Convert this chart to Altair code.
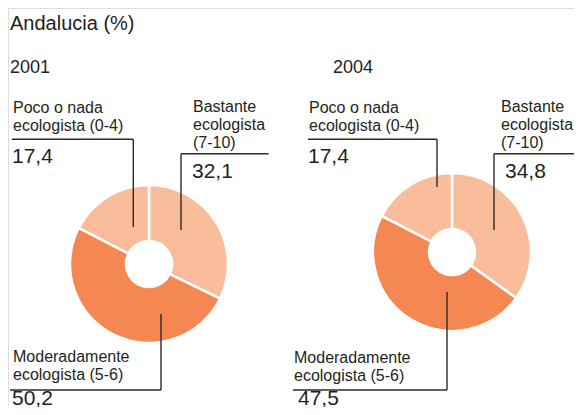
import altair as alt
import pandas as pd

# ---------------- data ----------------
years = ["2001", "2004"]
categories = ["Bastante ecologista (7-10)", "Moderadamente ecologista (5-6)", "Poco o nada ecologista (0-4)"]
label_lines = ["Bastante\necologista\n(7-10)", "Moderadamente\necologista (5-6)", "Poco o nada\necologista (0-4)"]
values_2001 = [32.1, 50.2, 17.4]
values_2004 = [34.8, 47.5, 17.4]
title_text = "Andalucia (%)"

# ---------------- layout (page pixels) / style ----------------
M = 8  # page margin
W, H = 582 - 2 * M, 415 - 2 * M
LIGHT = "#F9BD9B"
DARK = "#F58752"
INK = "#231F20"
FONT = "Liberation Sans"
R_OUT, R_IN = 79, 23

panels = {
    "2001": dict(cx=149, cy=264, year_xy=(10, 73),
                 label_xy=[(193, 111.5), (13, 361.5), (13, 112.5)],
                 value_xy=[(192, 178), (12, 404.5), (12, 163)],
                 lines=[  # horizontal + vertical leader for each category
                     [(181, 153.7, 268.5, 153.7), (181, 153.7, 181, 230)],
                     [(10, 390, 161, 390), (161, 390, 161, 314)],
                     [(12, 139.3, 133.3, 139.3), (133.3, 139.3, 133.3, 227)]]),
    "2004": dict(cx=452, cy=252, year_xy=(333, 73),
                 label_xy=[(501, 111.5), (294, 362.5), (309, 112.5)],
                 value_xy=[(505, 178), (298, 404.5), (308, 163)],
                 lines=[
                     [(494, 153.7, 582, 153.7), (494, 153.7, 494, 230)],
                     [(293, 390, 447, 390), (447, 390, 447, 292)],
                     [(308, 139.3, 437, 139.3), (437, 139.3, 437, 187)]]),
}

values = {"2001": values_2001, "2004": values_2004}

def fmt(v):
    return f"{v:.1f}".replace(".", ",")

pie_rows, label_rows, value_rows, line_rows, head_rows = [], [], [], [], []
head_rows.append(dict(text=title_text, x=10 - M, y=30 - M, size=20))
for yr in years:
    p = panels[yr]
    head_rows.append(dict(text=yr, x=p["year_xy"][0] - M, y=p["year_xy"][1] - M, size=18))
    for i, cat in enumerate(categories):
        v = values[yr][i]
        pie_rows.append(dict(year=yr, category=cat, value=v, order=i))
        lx, ly = p["label_xy"][i]
        label_rows.append(dict(text=label_lines[i], x=lx - M, y=ly - M))
        vx, vy = p["value_xy"][i]
        value_rows.append(dict(text=fmt(v), x=vx - M, y=vy - M))
        for (x1, y1, x2, y2) in p["lines"][i]:
            line_rows.append(dict(x=x1 - M, y=y1 - M, x2=x2 - M, y2=y2 - M))

pie_df = pd.DataFrame(pie_rows)
label_df = pd.DataFrame(label_rows)
value_df = pd.DataFrame(value_rows)
line_df = pd.DataFrame(line_rows)
head_df = pd.DataFrame(head_rows)

color = alt.Color("category:N", scale=alt.Scale(domain=categories, range=[LIGHT, DARK, LIGHT]), legend=None)

def donut(yr):
    p = panels[yr]
    return (
        alt.Chart(pie_df)
        .transform_filter(alt.datum.year == yr)
        .mark_arc(innerRadius=R_IN, outerRadius=R_OUT, stroke="white", strokeWidth=2.5)
        .encode(
            theta=alt.Theta("value:Q", stack=True),
            color=color,
            order=alt.Order("order:Q", sort="ascending"),
            x=alt.value(p["cx"] - M),
            y=alt.value(p["cy"] - M),
        )
    )

X = lambda f: alt.X(f, scale=None, axis=None)
Y = lambda f: alt.Y(f, scale=None, axis=None)

rules = alt.Chart(line_df).mark_rule(color="#2A2A2A", strokeWidth=1.4).encode(
    x=X("x:Q"), y=Y("y:Q"), x2="x2:Q", y2="y2:Q"
)

labels = alt.Chart(label_df).mark_text(
    align="left", baseline="alphabetic", font=FONT, fontSize=16, color=INK,
    lineBreak="\n", lineHeight=18.2
).encode(x=X("x:Q"), y=Y("y:Q"), text="text:N")

vals = alt.Chart(value_df).mark_text(
    align="left", baseline="alphabetic", font=FONT, fontSize=21, color=INK
).encode(x=X("x:Q"), y=Y("y:Q"), text="text:N")

heads = alt.Chart(head_df).mark_text(
    align="left", baseline="alphabetic", font=FONT, color=INK
).encode(x=X("x:Q"), y=Y("y:Q"), text="text:N", size=alt.Size("size:Q", scale=None, legend=None))

chart = (
    alt.layer(donut("2001"), donut("2004"), rules, labels, vals, heads)
    .resolve_scale(theta="independent")
    .properties(width=W, height=H, padding=0, autosize="none")
    .configure_view(stroke="transparent", strokeWidth=0)
    .configure(background="white")
)

chart.save("out.html", embed_options={"renderer": "svg", "actions": False})
